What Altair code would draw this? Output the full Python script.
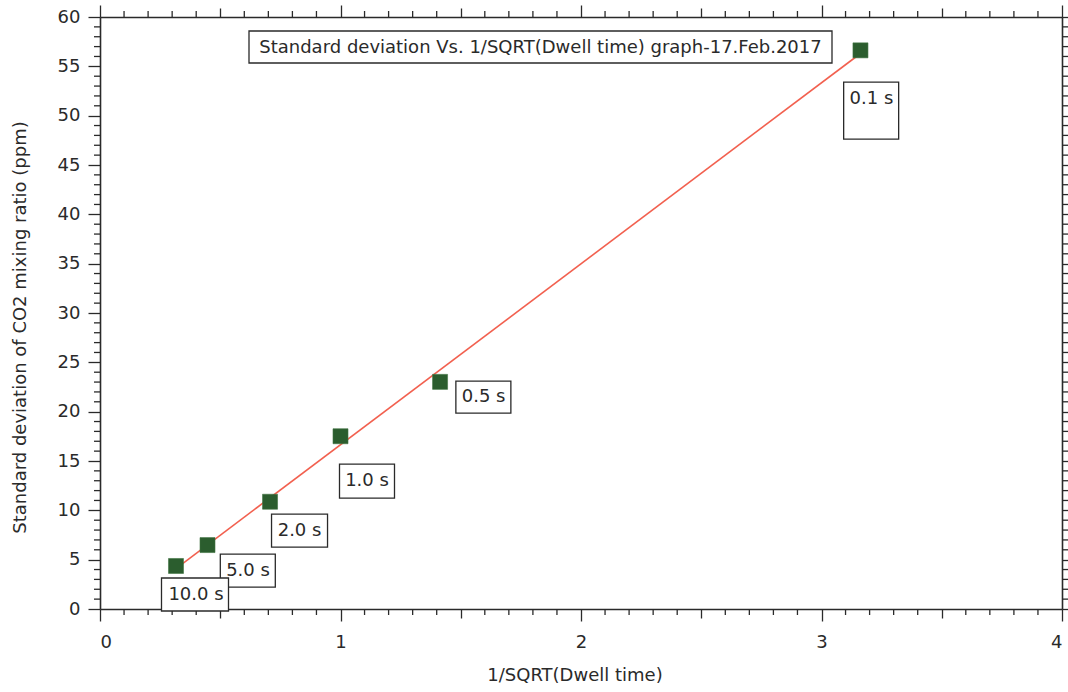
import altair as alt
import pandas as pd

# ---- data ----
inv_sqrt_dwell = [0.316, 0.447, 0.707, 1.0, 1.414, 3.162]
std_dev_ppm = [4.36, 6.48, 10.87, 17.51, 23.02, 56.62]
labels = ["10.0 s", "5.0 s", "2.0 s", "1.0 s", "0.5 s", "0.1 s"]

fit_x = [0.316, 3.162]
fit_y = [4.1, 56.3]

graph_title = "Standard deviation Vs. 1/SQRT(Dwell time) graph-17.Feb.2017"
x_title = "1/SQRT(Dwell time)"
y_title = "Standard deviation of CO2 mixing ratio (ppm)"

x_major = [0, 1, 2, 3, 4]
y_major = [0, 5, 10, 15, 20, 25, 30, 35, 40, 45, 50, 55, 60]
x_medium = [0.5, 1.5, 2.5, 3.5]
x_minor = [0.1, 0.2, 0.3, 0.4, 0.6, 0.7, 0.8, 0.9,
           1.1, 1.2, 1.3, 1.4, 1.6, 1.7, 1.8, 1.9,
           2.1, 2.2, 2.3, 2.4, 2.6, 2.7, 2.8, 2.9,
           3.1, 3.2, 3.3, 3.4, 3.6, 3.7, 3.8, 3.9]
y_minor = [v for v in range(61) if v % 5 != 0]

# ---- style (pixel offsets of the tag boxes relative to their point) ----
# label: (box_dx, box_dy, box_w, box_h, text_dx, text_dy)
tag_style = {
    "0.1 s": (10.7, 60.3, 55, 57, 11, 49),
    "0.5 s": (43.3, 15.2, 55, 32, 43.5, 15.5),
    "1.0 s": (26.5, 44.8, 55, 34, 26.5, 45),
    "2.0 s": (29.5, 28.8, 56, 33, 29.5, 29),
    "5.0 s": (40.3, 25.5, 55, 33, 40.5, 26),
    "10.0 s": (19.0, 28.5, 67, 33, 20, 29),
}

FONT = "DejaVu Sans"
FS = 18
INK = "#2a2a2a"
W, H = 962, 592
TW = 1.3  # tick width

pts = pd.DataFrame({"x": inv_sqrt_dwell, "y": std_dev_ppm, "label": labels})
fit = pd.DataFrame({"x": fit_x, "y": fit_y})

xscale = alt.Scale(domain=[0, 4], nice=False, zero=False)
yscale = alt.Scale(domain=[0, 60], nice=False, zero=False)


def ax(orient, values, size, labels_on=False, domain=False, title=None, **kw):
    params = dict(
        orient=orient, values=values,
        tickSize=size, labels=labels_on,
        domain=domain, grid=False, tickColor=INK, tickWidth=TW,
        domainColor=INK, domainWidth=1.6,
    )
    if labels_on:
        params.update(labelFont=FONT, labelFontSize=FS, labelColor=INK,
                      labelOverlap=False, format="d")
    params.update(kw)
    return alt.Axis(title=title, **params)


X_NOAX = alt.X("x:Q", scale=xscale, axis=None)
Y_NOAX = alt.Y("y:Q", scale=yscale, axis=None)

# main axes with labels + titles, on the fit line layer
line = alt.Chart(fit).mark_line(color="#f2604f", strokeWidth=1.6).encode(
    x=alt.X("x:Q", scale=xscale, axis=ax(
        "bottom", x_major, 12, labels_on=True, domain=True, title=x_title,
        labelPadding=12, titleFont=FONT, titleFontSize=FS, titleColor=INK,
        titleFontWeight="normal", titleX=474.5, titleY=66,
        titleBaseline="middle", titleAnchor="middle")),
    y=alt.Y("y:Q", scale=yscale, axis=ax(
        "left", y_major, 12, labels_on=True, domain=True, title=y_title,
        labelPadding=8, titleFont=FONT, titleFontSize=18, titleColor=INK,
        titleFontWeight="normal", titleX=-80, titleY=310,
        titleAngle=-90, titleBaseline="middle", titleAlign="center")),
)

carrier_axes = [
    (ax("bottom", x_medium, 9), ax("right", y_major, 12, domain=True)),
    (ax("top", x_major, 12, domain=True), None),
    (ax("top", x_medium, 9), None),
]
carriers = []
for xa, ya in carrier_axes:
    carriers.append(alt.Chart(fit).mark_point(opacity=0).encode(
        x=alt.X("x:Q", scale=xscale, axis=xa),
        y=alt.Y("y:Q", scale=yscale, axis=ya),
    ))

# minor ticks drawn as short rules placed through the scales
xm = pd.DataFrame({"v": x_minor})
ym = pd.DataFrame({"v": y_minor})
minor_bottom = alt.Chart(xm).mark_rule(color=INK, strokeWidth=TW).encode(
    x=alt.X("v:Q", scale=xscale, axis=None), y=alt.value(H), y2=alt.value(H + 6))
minor_top = alt.Chart(xm).mark_rule(color=INK, strokeWidth=TW).encode(
    x=alt.X("v:Q", scale=xscale, axis=None), y=alt.value(0), y2=alt.value(-6))
minor_left = alt.Chart(ym).mark_rule(color=INK, strokeWidth=TW).encode(
    y=alt.Y("v:Q", scale=yscale, axis=None), x=alt.value(0), x2=alt.value(-6))
minor_right = alt.Chart(ym).mark_rule(color=INK, strokeWidth=TW).encode(
    y=alt.Y("v:Q", scale=yscale, axis=None), x=alt.value(W), x2=alt.value(W + 6))

points = alt.Chart(pts).mark_square(
    size=225, color="#2b5d2e", opacity=1, stroke="#3f7442", strokeWidth=0.6
).encode(x=X_NOAX, y=Y_NOAX)

tags = []
for lab, (bdx, bdy, bw, bh, tdx, tdy) in tag_style.items():
    base = alt.Chart(pts).transform_filter(alt.datum.label == lab).encode(
        x=X_NOAX, y=Y_NOAX
    )
    box = base.mark_rect(
        width=bw, height=bh, xOffset=bdx, yOffset=bdy,
        fill="white", stroke=INK, strokeWidth=1.3,
    )
    txt = base.mark_text(
        dx=tdx, dy=tdy, font=FONT, fontSize=FS, color=INK,
        align="center", baseline="middle",
    ).encode(text="label:N")
    tags += [box, txt]

tdf = pd.DataFrame({"t": [graph_title]})
title_box = alt.Chart(tdf).mark_rect(
    fill="white", stroke=INK, strokeWidth=1.3
).encode(x=alt.value(149), x2=alt.value(732), y=alt.value(14), y2=alt.value(46))
title_txt = alt.Chart(tdf).mark_text(
    font=FONT, fontSize=FS, color=INK, align="center", baseline="middle"
).encode(x=alt.value(440.5), y=alt.value(30.5), text="t:N")

chart = alt.layer(
    line, *carriers, minor_bottom, minor_top, minor_left, minor_right,
    points, *tags, title_box, title_txt
).resolve_axis(x="independent", y="independent").properties(
    width=W, height=H,
    autosize=alt.AutoSizeParams(type="none"),
    padding={"left": 100, "top": 17, "right": 6, "bottom": 83},
).configure_view(stroke=None).configure(background="white")

chart.save("out.html", embed_options={"renderer": "svg", "actions": False})
